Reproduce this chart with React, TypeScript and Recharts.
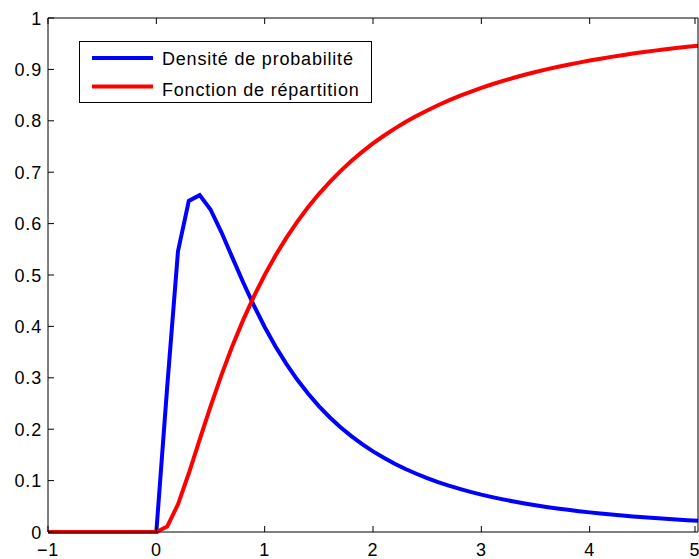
import { LineChart, Line, XAxis, YAxis, Legend } from 'recharts';

// abscisses, pas de 0.1
const xs = [
  -1, -0.9, -0.8, -0.7, -0.6, -0.5, -0.4, -0.3, -0.2, -0.1, 0,
  0.1, 0.2, 0.3, 0.4, 0.5, 0.6, 0.7, 0.8, 0.9, 1,
  1.1, 1.2, 1.3, 1.4, 1.5, 1.6, 1.7, 1.8, 1.9, 2,
  2.1, 2.2, 2.3, 2.4, 2.5, 2.6, 2.7, 2.8, 2.9, 3,
  3.1, 3.2, 3.3, 3.4, 3.5, 3.6, 3.7, 3.8, 3.9, 4,
  4.1, 4.2, 4.3, 4.4, 4.5, 4.6, 4.7, 4.8, 4.9, 5,
];

const densite = [
  0, 0, 0, 0, 0, 0, 0, 0, 0, 0, 0,
  0.2816, 0.5463, 0.6442, 0.6554, 0.6275, 0.5836, 0.5348, 0.4864, 0.4408, 0.3989,
  0.3610, 0.3270, 0.2965, 0.2693, 0.2450, 0.2233, 0.2039, 0.1865, 0.1709, 0.1569,
  0.1443, 0.1329, 0.1226, 0.1133, 0.1049, 0.0972, 0.0902, 0.0839, 0.0780, 0.0727,
  0.0679, 0.0634, 0.0593, 0.0555, 0.0520, 0.0488, 0.0458, 0.0431, 0.0405, 0.0382,
  0.0360, 0.0339, 0.0320, 0.0303, 0.0286, 0.0271, 0.0256, 0.0243, 0.0230, 0.0219,
];

const repartition = [
  0, 0, 0, 0, 0, 0, 0, 0, 0, 0, 0,
  0.0106, 0.0538, 0.1143, 0.1797, 0.2441, 0.3047, 0.3607, 0.4117, 0.4580, 0.5000,
  0.5380, 0.5723, 0.6035, 0.6317, 0.6574, 0.6808, 0.7022, 0.7217, 0.7395, 0.7559,
  0.7709, 0.7848, 0.7976, 0.8093, 0.8202, 0.8303, 0.8397, 0.8484, 0.8565, 0.8640,
  0.8711, 0.8776, 0.8837, 0.8895, 0.8949, 0.9000, 0.9046, 0.9091, 0.9132, 0.9172,
  0.9209, 0.9244, 0.9277, 0.9308, 0.9337, 0.9365, 0.9391, 0.9416, 0.9440, 0.9462,
];

const xTicks = [-1, 0, 1, 2, 3, 4, 5];
const yTicks = [0, 0.1, 0.2, 0.3, 0.4, 0.5, 0.6, 0.7, 0.8, 0.9, 1];

const data = xs.map((x, i) => ({ x, pdf: densite[i], cdf: repartition[i] }));

const FONT = '"Liberation Sans", Arial, Helvetica, sans-serif';
const TICK = 6; // graduations vers l'intérieur, style MATLAB

const fmtX = (v: number) => (v < 0 ? '\u2212' + Math.abs(v) : String(v));

// ticks custom : trait intérieur + libellé
function BottomTick({ x, y, payload }: any) {
  return (
    <g>
      <line x1={x} x2={x} y1={y} y2={y - TICK} stroke="#000" />
      <text x={x} y={y + 24} textAnchor="middle" fontSize={18} fontFamily={FONT} letterSpacing={0.8} fill="#000">
        {fmtX(payload.value)}
      </text>
    </g>
  );
}

function LeftTick({ x, y, payload }: any) {
  return (
    <g>
      <line x1={x} x2={x + TICK} y1={y} y2={y} stroke="#000" />
      <text x={x - 6} y={y + 6.5} textAnchor="end" fontSize={18} fontFamily={FONT} letterSpacing={0.8} fill="#000">
        {String(payload.value)}
      </text>
    </g>
  );
}

function TopTick({ x, y }: any) {
  return <line x1={x} x2={x} y1={y} y2={y + TICK} stroke="#000" />;
}

function RightTick({ x, y }: any) {
  return <line x1={x} x2={x - TICK} y1={y} y2={y} stroke="#000" />;
}

function LegendBox({ payload }: any) {
  const items = payload || [];
  return (
    <svg width={293} height={62} style={{ display: 'block' }}>
      <rect x={0.5} y={0.5} width={292} height={61} fill="#fff" stroke="#000" strokeWidth={1} />
      {items.map((it: any, i: number) => (
        <g key={it.value}>
          <line x1={13} x2={74} y1={17 + i * 28.5} y2={17 + i * 28.5} stroke={it.color} strokeWidth={4} />
          <text x={83} y={24 + i * 30.5} fontSize={18} fontFamily={FONT} letterSpacing={0.8} fill="#000">
            {it.value}
          </text>
        </g>
      ))}
    </svg>
  );
}

export default function App() {
  return (
    <div style={{ position: 'absolute', left: 0, top: 0, background: '#fff' }}>
      <LineChart width={699} height={559} data={data} margin={{ top: 0, right: 0, bottom: 0, left: 0 }}>
        <XAxis
          xAxisId="b"
          dataKey="x"
          type="number"
          domain={[-1, 5]}
          ticks={xTicks}
          height={27}
          tickSize={0}
          tickMargin={0}
          tickLine={false}
          stroke="#000"
          tick={BottomTick}
        />
        <XAxis
          xAxisId="t"
          orientation="top"
          dataKey="x"
          type="number"
          domain={[-1, 5]}
          ticks={xTicks}
          height={18}
          tickSize={0}
          tickMargin={0}
          tickLine={false}
          stroke="#000"
          tick={TopTick}
        />
        <YAxis
          yAxisId="l"
          type="number"
          domain={[0, 1]}
          ticks={yTicks}
          width={48}
          tickSize={0}
          tickMargin={0}
          tickLine={false}
          stroke="#000"
          tick={LeftTick}
        />
        <YAxis
          yAxisId="r"
          orientation="right"
          type="number"
          domain={[0, 1]}
          ticks={yTicks}
          width={1}
          tickSize={0}
          tickMargin={0}
          tickLine={false}
          stroke="#000"
          tick={RightTick}
        />
        <Legend
          layout="horizontal"
          verticalAlign="middle"
          align="center"
          content={LegendBox}
          wrapperStyle={{ left: 79, top: 41, width: 293, height: 62 }}
        />
        <Line
          xAxisId="b"
          yAxisId="l"
          type="linear"
          dataKey="pdf"
          name="Densité de probabilité"
          stroke="#0000ff"
          strokeWidth={4}
          dot={false}
          isAnimationActive={false}
        />
        <Line
          xAxisId="b"
          yAxisId="l"
          type="linear"
          dataKey="cdf"
          name="Fonction de répartition"
          stroke="#ff0000"
          strokeWidth={4}
          dot={false}
          isAnimationActive={false}
        />
      </LineChart>
    </div>
  );
}
